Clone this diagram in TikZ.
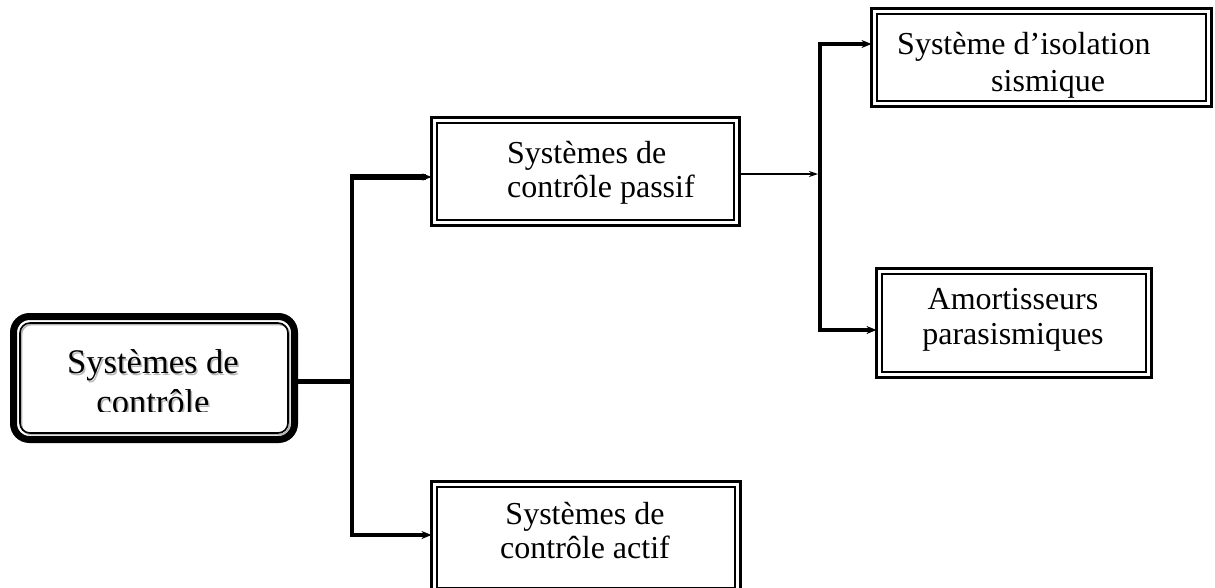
\documentclass[tikz,border=0pt]{standalone}
\usepackage{fontspec}
\setmainfont{Liberation Serif}
\usetikzlibrary{arrows.meta}
\begin{document}
\begin{tikzpicture}[x=1pt,y=-1pt,
  dbox/.style={draw,line width=3pt,inner sep=0pt,outer sep=0pt,
    path picture={\draw[line width=1.5pt]
      ([shift={(5.5pt,-5.5pt)}]path picture bounding box.north west) rectangle
      ([shift={(-5.5pt,5.5pt)}]path picture bounding box.south east);}},
  mainbox/.style={draw,line width=7pt,rounded corners=16pt,inner sep=0pt,outer sep=0pt,
    path picture={
      \draw[gray!60,line width=1.6pt,rounded corners=10pt]
        ([shift={(8pt,-8pt)}]path picture bounding box.north west) rectangle
        ([shift={(-5pt,5pt)}]path picture bounding box.south east);
      \draw[line width=1.6pt,rounded corners=10pt]
        ([shift={(6.5pt,-6.5pt)}]path picture bounding box.north west) rectangle
        ([shift={(-6.5pt,6.5pt)}]path picture bounding box.south east);}},
  tx/.style={font=\fontsize{32}{34}\selectfont,inner sep=0pt},
  conn/.style={line width=4pt},
  tip/.style={-{Stealth[length=10pt,width=8pt]}}
]
\useasboundingbox (0,0) rectangle (1215,587);
\clip (0,0) rectangle (1215,587);

% boxes
\node[mainbox,minimum width=281pt,minimum height=123pt] (main) at (154,378) {};
\node[dbox,minimum width=308pt,minimum height=108pt] (passive) at (585.5,171.5) {};
\node[dbox,minimum width=309pt,minimum height=112pt] (actif) at (586,537.5) {};
\node[dbox,minimum width=340pt,minimum height=98pt] (iso) at (1041.5,57.5) {};
\node[dbox,minimum width=275pt,minimum height=109pt] (amort) at (1014,323) {};

% texts (the lower line of the main label is cut by its text frame)
\begin{scope}
  \clip (0,300) rectangle (300,411);
  \node[tx,font=\fontsize{34.5}{40}\selectfont,align=center,text=gray!55] (mainshadow) at (154.5,384) {Systèmes de\\contrôle};
  \node[tx,font=\fontsize{34.5}{40}\selectfont,align=center] (maintext) at (153,382) {Systèmes de\\contrôle};
\end{scope}
\node[tx,align=left,anchor=west] (passivetext) at (507,173) {Systèmes de\\contrôle passif};
\node[tx,align=center] (actiftext) at (585,531) {Systèmes de\\contrôle actif};
\node[tx,font=\fontsize{32}{37}\selectfont,align=left,anchor=west] (isotext) at (897,65) {Système d’isolation\\\hspace*{94pt}sismique};
\node[tx,font=\fontsize{32}{35}\selectfont,align=center] (amorttext) at (1013,320) {Amortisseurs\\parasismiques};

% branching points
\coordinate (ta-top) at (352,177);
\coordinate (ta-mid) at (352,381);
\coordinate (ta-bot) at (352,535);
\coordinate (tb-top) at (820,44);
\coordinate (tb-mid) at (820,174);
\coordinate (tb-bot) at (820,330);

% connectors
\draw[conn,line width=5pt] (main.east |- ta-mid) -- (ta-mid);
\draw[conn] ([yshift=2pt]ta-top) -- ([yshift=-2pt]ta-bot);
\draw[conn,line width=5.5pt,-{Stealth[length=9pt,width=7pt]}] ([xshift=-2pt]ta-top) -- (passive.west |- ta-top);
\draw[conn,tip] ([xshift=-2pt]ta-bot) -- (actif.west |- ta-bot);
\draw[line width=2.5pt,-{Stealth[length=9pt,width=6pt]}] (passive.east |- tb-mid) -- ([xshift=-2pt]tb-mid);
\draw[conn] ([yshift=2pt]tb-top) -- ([yshift=-2pt]tb-bot);
\draw[conn,tip] ([xshift=-2pt]tb-top) -- (iso.west |- tb-top);
\draw[conn,tip] ([xshift=-2pt]tb-bot) -- (amort.west |- tb-bot);
\end{tikzpicture}
\end{document}
